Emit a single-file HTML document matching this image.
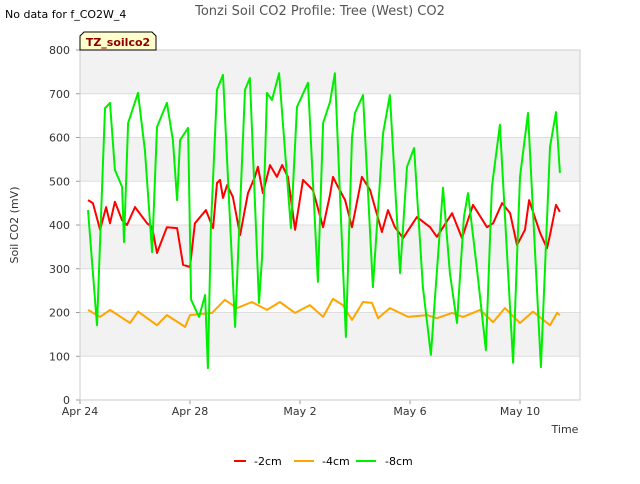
<!DOCTYPE html>
<html><head><meta charset="utf-8"><style>
body{margin:0;background:#fff;font-family:"DejaVu Sans","Liberation Sans",sans-serif}
</style></head><body>
<svg width="640" height="480" xmlns="http://www.w3.org/2000/svg" font-family="DejaVu Sans, Liberation Sans, sans-serif">
<rect width="640" height="480" fill="#fff"/>
<g id="bands"></g>
<g id="grid"></g>
<g id="series"></g>
<g id="axes"></g>
<text x="5" y="18" font-size="11" fill="#000">No data for f_CO2W_4</text>
<text x="320" y="15" font-size="13" fill="#555" text-anchor="middle">Tonzi Soil CO2 Profile: Tree (West) CO2</text>
<g>
<path d="M80,50 L80,36 L84,32 L152,32 L156,36 L156,50 Z" fill="#ffffcc" stroke="#000" stroke-width="1"/>
<text x="118" y="46" font-size="11" font-weight="bold" fill="#8b0000" text-anchor="middle">TZ_soilco2</text>
</g>
<text transform="translate(18,225) rotate(-90)" font-size="11" fill="#333" text-anchor="middle">Soil CO2 (mV)</text>
<text x="565" y="433" font-size="11" fill="#333" text-anchor="middle">Time</text>
<g font-size="11" fill="#000">
<line x1="234" y1="461" x2="246" y2="461" stroke="#ff0000" stroke-width="2"/><text x="254" y="465">-2cm</text>
<line x1="294" y1="461" x2="314" y2="461" stroke="#ffa500" stroke-width="2"/><text x="322" y="465">-4cm</text>
<line x1="356" y1="461" x2="376" y2="461" stroke="#00ee00" stroke-width="2"/><text x="385" y="465">-8cm</text>
</g>
</svg>
<script>
const yTicks=[0,100,200,300,400,500,600,700,800];
const xTickDays=[0,4,8,12,16];
const xTickLabels=["Apr 24","Apr 28","May 2","May 6","May 10"];
const redDays=[0.29,0.47,0.73,0.95,1.09,1.27,1.53,1.71,2.0,2.44,2.62,2.8,3.16,3.53,3.75,4.0,4.18,4.58,4.84,4.98,5.09,5.2,5.35,5.56,5.82,6.11,6.36,6.47,6.65,6.91,7.16,7.35,7.56,7.82,8.11,8.47,8.84,9.09,9.2,9.38,9.64,9.89,10.25,10.55,10.98,11.2,11.45,11.75,12.25,12.73,12.98,13.53,13.89,14.29,14.8,15.02,15.35,15.64,15.89,16.18,16.33,16.73,16.98,17.09,17.31,17.45];
const redVals=[457,450,389,441,404,453,411,400,441,404,395,336,395,393,309,304,404,434,393,496,503,462,491,464,377,473,510,533,473,537,510,537,510,389,503,480,395,469,510,487,457,395,510,480,384,434,395,370,418,395,373,427,370,446,395,404,450,427,354,389,457,382,347,377,446,430];
const orangeDays=[0.29,0.73,1.09,1.82,2.11,2.8,3.16,3.82,4.0,4.8,5.27,5.71,6.25,6.8,7.27,7.82,8.36,8.84,9.2,9.56,9.89,10.29,10.62,10.84,11.27,11.93,12.62,12.98,13.53,13.93,14.55,15.02,15.45,16.0,16.47,17.09,17.35,17.45];
const orangeVals=[206,190,206,176,202,171,194,167,194,199,229,210,224,206,224,199,217,190,231,217,183,224,222,187,210,190,194,187,199,190,206,178,210,176,202,171,199,194];
const greenDays=[0.29,0.62,0.91,1.09,1.27,1.53,1.6,1.75,2.11,2.36,2.62,2.8,3.16,3.38,3.53,3.64,3.93,4.04,4.33,4.55,4.65,4.76,4.98,5.2,5.64,6.0,6.18,6.51,6.62,6.8,6.98,7.24,7.67,7.89,8.29,8.65,8.84,9.09,9.27,9.67,9.89,10.0,10.29,10.65,11.02,11.27,11.64,11.89,12.15,12.47,12.76,12.91,13.2,13.45,13.71,13.96,14.11,14.44,14.76,14.98,15.27,15.75,16.0,16.29,16.76,17.09,17.31,17.45];
const greenVals=[434,171,667,679,526,487,361,633,702,571,338,624,679,594,457,594,622,229,190,240,73,395,709,743,167,709,736,222,327,702,686,747,393,670,725,270,633,681,747,144,601,656,697,258,610,697,290,533,576,258,103,235,485,290,176,418,473,297,114,487,629,85,510,656,75,578,658,519];

const L=80,R=580,T=50,B=400,NS="http://www.w3.org/2000/svg";
const xs=d=>L+d*27.5, ys=v=>B-(v/800)*(B-T);
function mk(tag,attrs,parent){const e=document.createElementNS(NS,tag);for(const k in attrs)e.setAttribute(k,attrs[k]);document.getElementById(parent).appendChild(e);return e;}
for(let i=0;i<yTicks.length-1;i++){
  if(i%2===1){const r=mk('rect',{x:L,y:ys(yTicks[i+1]),width:R-L,height:ys(yTicks[i])-ys(yTicks[i+1]),fill:'#f2f2f2'},'bands');
  
  }
}
yTicks.forEach(v=>{
  const g=mk('line',{x1:L,x2:R,y1:ys(v),y2:ys(v),stroke:'#dddddd','stroke-width':1},'grid');
  
  
  const t=mk('text',{x:L-10,y:ys(v)+4,'font-size':11,fill:'#333','text-anchor':'end'},'axes');
  
  
  t.textContent=v;
  mk('line',{x1:L-4,x2:L,y1:ys(v),y2:ys(v),stroke:'#999'},'axes');
});
xTickDays.forEach((d,i)=>{
  const t=mk('text',{x:xs(d),y:415,'font-size':11,fill:'#333','text-anchor':'middle'},'axes');
  
  
  t.textContent=xTickLabels[i];
  mk('line',{x1:xs(d),x2:xs(d),y1:B,y2:B+4,stroke:'#999'},'axes');
});
const fr=mk('rect',{x:L,y:T,width:R-L,height:B-T,fill:'none',stroke:'#cccccc'},'axes');


function line(days,vals,color,name){
  const p=mk('polyline',{points:days.map((d,i)=>xs(d).toFixed(1)+','+ys(vals[i]).toFixed(1)).join(' '),fill:'none',stroke:color,'stroke-width':2,'stroke-linejoin':'round'},'series');
  
  
}
line(orangeDays,orangeVals,'#ffa500','series-4cm');
line(redDays,redVals,'#ff0000','series-2cm');
line(greenDays,greenVals,'#00ee00','series-8cm');
</script>
</body></html>
